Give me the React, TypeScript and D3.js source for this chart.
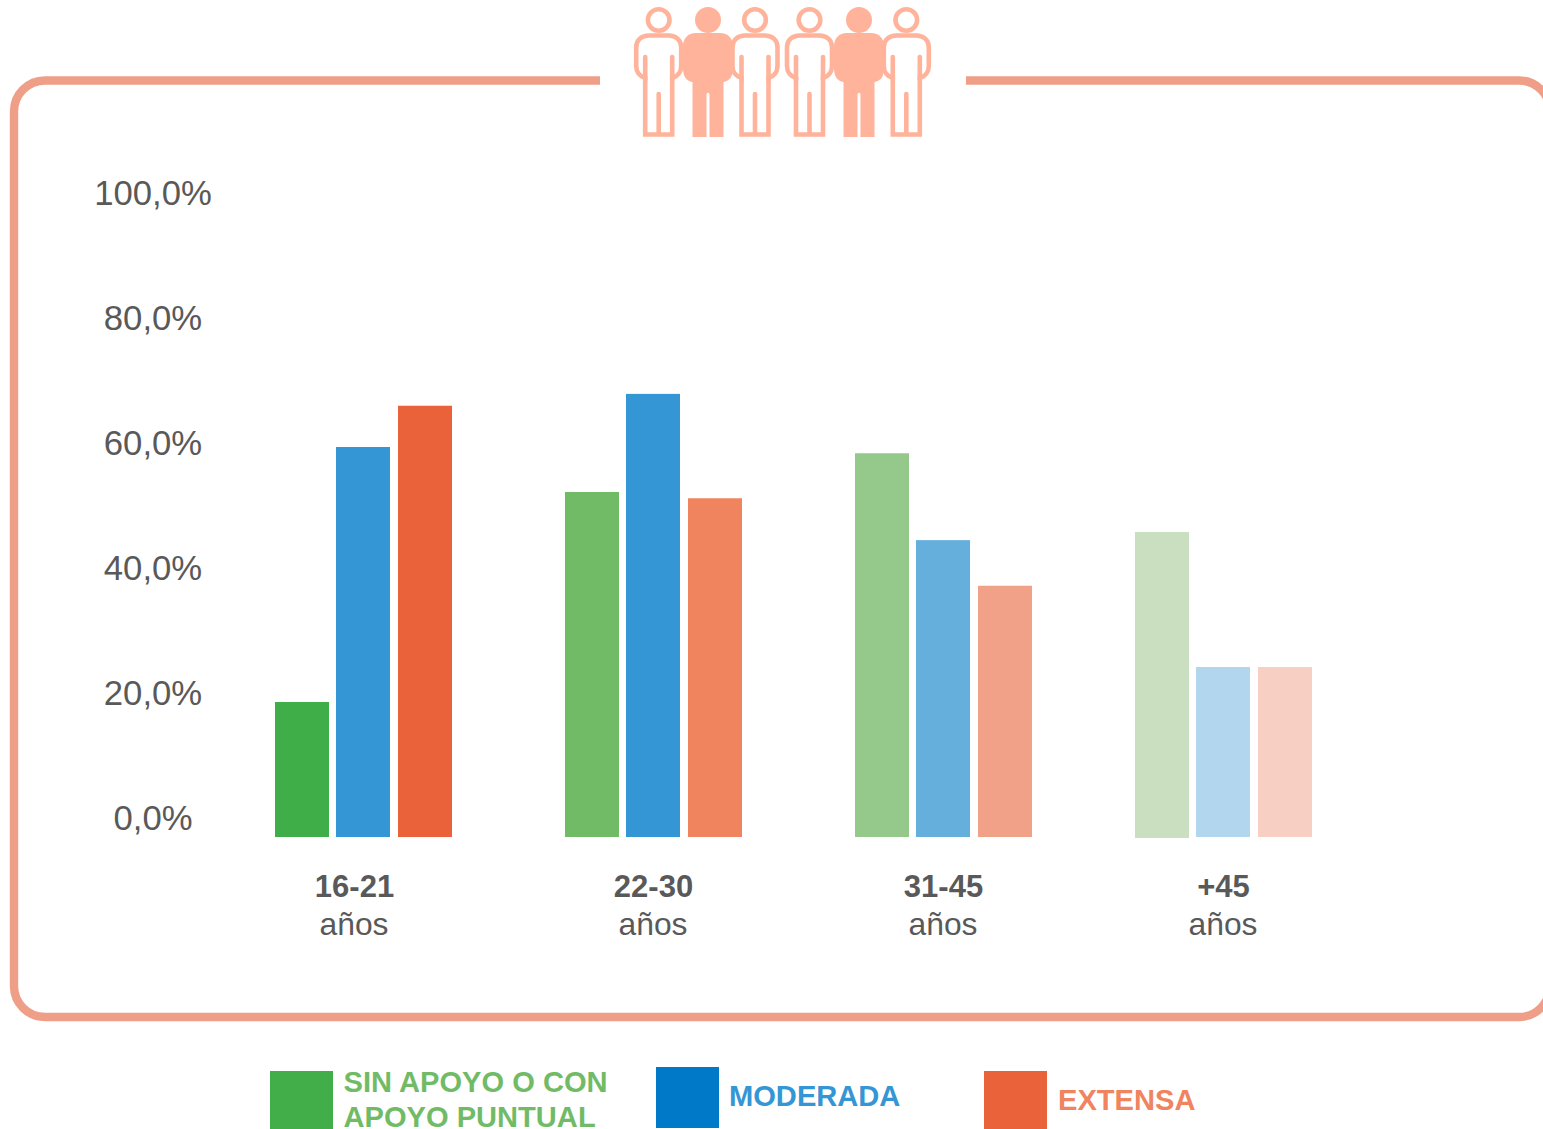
import React from "react";
import * as d3 from "d3";

const groups = ["16-21", "22-30", "31-45", "+45"];
const series = ["SIN APOYO O CON APOYO PUNTUAL", "MODERADA", "EXTENSA"];
const sinApoyo = [21.6, 55.2, 61.4, 48.8];
const moderada = [62.4, 70.9, 47.5, 27.2];
const extensa = [69.0, 54.2, 40.2, 27.2];
const tickValues = [0, 20, 40, 60, 80, 100];
const tickLabels = ["0,0%", "20,0%", "40,0%", "60,0%", "80,0%", "100,0%"];

const seriesValues = [sinApoyo, moderada, extensa];
const colors = [
  ["#3fae49", "#71bb66", "#95c98b", "#c9dfc0"],
  ["#3496d4", "#3496d4", "#65afdc", "#b3d6ef"],
  ["#ea6239", "#ef845f", "#f1a188", "#f7cfc3"],
];

const FONT = "'Liberation Sans', Arial, sans-serif";
const TEXT = "#595959";
const ICON = "#ffb39b";
const FRAME = "#ef9f87";

const y = d3.scaleLinear().domain([0, 100]).range([837, 212]);
const tickY = d3.scaleLinear().domain([0, 100]).range([818, 193]);
const groupX = d3.scaleOrdinal<string, number>().domain(groups).range([275, 565, 855, 1135]);
const barX = d3.scaleOrdinal<number, number>().domain([0, 1, 2]).range([0, 61, 123]);
const labelX = d3.scaleOrdinal<string, number>().domain(groups).range([354, 653, 943, 1223]);

const Person = ({ cx, filled }: { cx: number; filled: boolean }) => {
  if (filled) {
    return (
      <g fill={ICON}>
        <circle cx={cx} cy={20} r={13} />
        <path d={`M${cx - 15.5},82 L${cx - 15.5},137 L${cx - 1.5},137 L${cx - 1.5},94 Q${cx},91.5 ${cx + 1.5},94 L${cx + 1.5},137 L${cx + 15.5},137 L${cx + 15.5},82 C${cx + 22},81 ${cx + 25},76 ${cx + 25},68 L${cx + 25},47 C${cx + 25},38 ${cx + 20},33 ${cx + 12},33 L${cx - 12},33 C${cx - 20},33 ${cx - 25},38 ${cx - 25},47 L${cx - 25},68 C${cx - 25},76 ${cx - 22},81 ${cx - 15.5},82 Z`} />
      </g>
    );
  }
  const body = `M${cx - 13.5},78 L${cx - 13.5},134.5 L${cx + 13.5},134.5 L${cx + 13.5},78 C${cx + 19},76.5 ${cx + 22.5},72 ${cx + 22.5},66 L${cx + 22.5},47 C${cx + 22.5},40 ${cx + 17},35.5 ${cx + 10},35.5 L${cx - 10},35.5 C${cx - 17},35.5 ${cx - 22.5},40 ${cx - 22.5},47 L${cx - 22.5},66 C${cx - 22.5},72 ${cx - 19},76.5 ${cx - 13.5},78 Z`;
  return (
    <g fill="none" stroke={ICON} strokeWidth={4.6}>
      <circle cx={cx} cy={20} r={10.8} />
      <path d={body} fill="#fff" />
      <path d={`M${cx - 13.5},57 L${cx - 13.5},80 M${cx + 13.5},57 L${cx + 13.5},80 M${cx},94 L${cx},133`} strokeLinecap="round" />
    </g>
  );
};

const legend = [
  { x: 270, y: 1071, w: 63, h: 58, fill: "#41ae4a", text: "#71bb66", lines: ["SIN APOYO O CON", "APOYO PUNTUAL"], tx: 343.5, ty: [1092, 1127] },
  { x: 656, y: 1067, w: 63, h: 61, fill: "#0079c8", text: "#3496d4", lines: ["MODERADA"], tx: 729, ty: [1106] },
  { x: 984, y: 1071, w: 63, h: 58, fill: "#ea6239", text: "#ef845f", lines: ["EXTENSA"], tx: 1058, ty: [1110] },
];

export default function App() {
  return (
    <svg width={1543} height={1129} viewBox="0 0 1543 1129" style={{ position: "absolute", left: 0, top: 0, display: "block" }} fontFamily={FONT}>
      <rect width={1543} height={1129} fill="#fff" />
      <rect x={14} y={80.5} width={1536} height={936.5} rx={31} ry={31} fill="none" stroke={FRAME} strokeWidth={8.4} />
      <rect x={600} y={70} width={366} height={20} fill="#fff" />
      {[658.7, 755, 809.5, 906.3].map((c) => <Person key={c} cx={c} filled={false} />)}
      {[708, 859].map((c) => <Person key={c} cx={c} filled />)}

      {tickValues.map((t, i) => (
        <text key={t} x={153} y={tickY(t)} dy="0.36em" textAnchor="middle" fontSize={34.7} fill={TEXT}>{tickLabels[i]}</text>
      ))}

      {groups.map((g, gi) =>
        seriesValues.map((vals, si) => (
          <rect
            key={g + si}
            x={groupX(g) + barX(si)}
            y={y(vals[gi])}
            width={54}
            height={y(0) - y(vals[gi]) + (gi === 3 && si === 0 ? 1 : 0)}
            fill={colors[si][gi]}
            aria-label={series[si]}
          />
        ))
      )}

      {groups.map((g) => (
        <g key={g} textAnchor="middle" fill={TEXT} fontSize={31}>
          <text x={labelX(g) + 0.5} y={897} fontWeight="bold">{g}</text>
          <text x={labelX(g)} y={935} fontSize={31.8}>años</text>
        </g>
      ))}

      {legend.map((l) => (
        <g key={l.tx}>
          <rect x={l.x} y={l.y} width={l.w} height={l.h} fill={l.fill} />
          {l.lines.map((t, i) => (
            <text key={t} x={l.tx} y={l.ty[i]} fontSize={29.1} fontWeight="bold" fill={l.text}>{t}</text>
          ))}
        </g>
      ))}
    </svg>
  );
}
